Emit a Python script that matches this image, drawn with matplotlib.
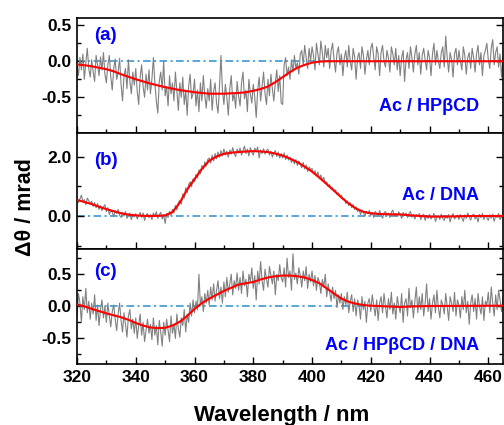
import numpy as np
import matplotlib
matplotlib.use("Agg")
import matplotlib.pyplot as plt
from matplotlib.ticker import MultipleLocator, FixedLocator, FormatStrFormatter

plt.rcParams['font.family'] = ['Liberation Sans', 'DejaVu Sans']
plt.rcParams['font.weight'] = 'bold'

# measured spectra, 0.5 nm step from 320 to 465 nm
wl_start, wl_step = 320.0, 0.5

cd_a = [
    -0.05, -0.20, 0.05, -0.12, 0.10, -0.25, -0.02, 0.18, -0.10, -0.22,
    0.02, -0.15, -0.28, 0.08, -0.05, -0.20, 0.06, -0.12, 0.12, -0.18,
    -0.30, -0.05, 0.08, -0.22, -0.40, -0.10, 0.03, -0.25, -0.15, 0.04,
    -0.32, -0.55, -0.20, -0.10, -0.38, 0.02, -0.28, -0.45, -0.15, -0.33,
    -0.10, -0.42, -0.60, -0.22, -0.05, -0.35, -0.50, -0.18, -0.40, -0.12,
    -0.45, -0.25, 0.05, -0.30, -0.55, -0.72, -0.28, -0.15, -0.40, 0.00,
    -0.48, -0.35, -0.62, -0.20, -0.45, -0.30, -0.55, -0.15, -0.42, -0.68,
    -0.30, -0.50, -0.22, -0.60, -0.40, -0.75, -0.35, -0.18, -0.52, -0.45,
    -0.25, -0.62, -0.40, -0.70, -0.30, -0.55, -0.20, -0.48, -0.65, -0.38,
    -0.55, -0.25, -0.68, -0.42, -0.30, -0.58, -0.72, -0.35, 0.08, -0.40,
    -0.60, -0.32, -0.50, -0.75, -0.38, -0.20, -0.55, -0.45, -0.65, -0.28,
    -0.48, -0.62, -0.30, -0.15, -0.52, -0.40, -0.70, -0.25, -0.45, -0.58,
    -0.32, -0.50, -0.78, -0.40, -0.22, -0.55, -0.35, -0.15, -0.45, -0.60,
    -0.25, -0.48, -0.18, -0.38, -0.55, -0.30, -0.12, -0.42, -0.20, -0.58,
    -0.60, -0.05, 0.05, -0.20, -0.08, -0.25, 0.02, -0.15, 0.08, -0.10,
    -0.02, -0.18, 0.10, 0.15, -0.05, 0.22, 0.05, -0.10, 0.18, 0.00,
    0.20, 0.08, -0.12, 0.25, 0.10, -0.05, 0.28, 0.12, -0.08, 0.22,
    0.05, 0.18, -0.10, 0.15, 0.25, 0.02, -0.15, 0.12, 0.20, -0.05,
    0.10, -0.20, 0.05, 0.15, -0.08, 0.22, 0.00, -0.12, 0.18, 0.06,
    -0.25, 0.05, 0.12, -0.10, 0.20, 0.08, -0.18, 0.02, 0.15, -0.05,
    0.18, 0.25, 0.05, -0.12, 0.20, 0.10, -0.20, 0.12, 0.22, 0.00,
    -0.08, 0.15, 0.05, -0.15, 0.20, 0.10, -0.05, 0.18, -0.12, 0.08,
    -0.20, 0.05, 0.15, -0.28, 0.02, 0.12, -0.10, 0.20, 0.05, -0.15,
    0.10, 0.22, -0.05, 0.12, -0.18, 0.08, 0.18, 0.02, -0.12, 0.15,
    0.05, -0.20, 0.10, 0.25, -0.05, 0.15, 0.00, -0.10, 0.12, 0.20,
    -0.08, 0.35, 0.05, -0.15, 0.12, 0.02, -0.22, 0.10, 0.18, -0.05,
    0.15, 0.00, -0.12, 0.20, 0.08, -0.18, 0.05, 0.12, -0.10, 0.18,
    0.05, -0.15, 0.10, 0.22, -0.05, 0.12, -0.20, 0.08, 0.15, 0.25,
    0.02, -0.10, 0.18, 0.30, -0.05, 0.12, 0.20, -0.08, 0.10, -0.22,
    0.05,
]

cd_b = [
    0.62, 0.45, 0.58, 0.70, 0.48, 0.55, 0.38, 0.60, 0.52, 0.40,
    0.50, 0.32, 0.45, 0.28, 0.42, 0.22, 0.35, 0.18, 0.30, 0.38,
    0.15, 0.28, 0.05, 0.20, 0.12, -0.02, 0.18, 0.08, 0.22, 0.02,
    -0.05, 0.12, 0.00, 0.15, -0.08, 0.05, 0.10, -0.12, 0.06, -0.03,
    0.08, -0.10, 0.02, 0.12, -0.05, 0.10, -0.15, 0.03, 0.08, -0.06,
    0.05, -0.12, 0.10, -0.02, 0.14, -0.08, 0.04, 0.12, -0.10, 0.02,
    -0.25, 0.08, -0.05, 0.15, 0.02, 0.22, 0.10, 0.35, 0.20, 0.45,
    0.52, 0.40, 0.75, 0.60, 0.95, 0.78, 1.05, 1.15, 0.98, 1.25,
    1.15, 1.40, 1.28, 1.55, 1.42, 1.70, 1.58, 1.82, 1.68, 1.90,
    1.95, 1.78, 2.05, 1.85, 2.10, 1.92, 2.15, 1.98, 2.20, 2.02,
    2.25, 2.05, 2.18, 1.98, 2.22, 2.08, 2.30, 2.10, 2.00, 2.25,
    2.12, 2.28, 2.05, 2.20, 2.35, 2.10, 2.25, 2.02, 2.30, 2.15,
    2.05, 2.28, 2.18, 2.32, 1.95, 2.22, 2.10, 2.26, 2.08, 2.20,
    2.25, 2.05, 2.18, 1.98, 2.12, 2.20, 2.00, 2.15, 1.95, 2.10,
    1.95, 2.12, 1.90, 2.05, 1.88, 1.98, 1.80, 1.92, 1.75, 1.90,
    1.70, 1.85, 1.75, 1.62, 1.80, 1.58, 1.72, 1.50, 1.65, 1.55,
    1.60, 1.42, 1.52, 1.35, 1.48, 1.25, 1.38, 1.20, 1.30, 1.10,
    1.15, 0.98, 1.05, 0.90, 0.95, 0.82, 0.88, 0.72, 0.78, 0.65,
    0.70, 0.55, 0.58, 0.42, 0.50, 0.35, 0.45, 0.28, 0.38, 0.22,
    0.30, 0.15, 0.22, 0.05, 0.18, 0.12, 0.00, 0.15, 0.08, 0.18,
    0.02, 0.12, -0.05, 0.15, 0.08, 0.00, 0.18, 0.05, -0.08, 0.10,
    0.15, 0.02, 0.10, -0.05, 0.12, 0.20, 0.00, 0.08, -0.02, 0.14,
    0.06, -0.08, 0.12, 0.02, 0.10, -0.05, 0.08, 0.15, -0.04, 0.05,
    -0.10, 0.05, -0.02, 0.08, -0.12, 0.00, 0.06, -0.15, 0.02, -0.08,
    0.05, -0.10, -0.03, 0.08, -0.18, -0.05, 0.02, -0.12, 0.06, -0.08,
    -0.15, 0.02, -0.08, 0.05, -0.20, -0.02, 0.08, -0.10, -0.04, 0.03,
    -0.12, 0.05, -0.06, -0.18, 0.04, -0.08, 0.10, -0.02, -0.14, 0.02,
    0.06, -0.10, 0.00, -0.20, 0.05, -0.06, 0.08, -0.12, 0.02, -0.05,
    -0.15, 0.04, -0.08, 0.06, -0.18, 0.00, -0.05, 0.08, -0.12, -0.02,
    0.03,
]

cd_c = [
    -0.15, 0.20, 0.05, -0.25, 0.15, -0.05, 0.28, -0.10, 0.08, -0.20,
    0.05, -0.12, 0.18, -0.22, 0.02, -0.30, -0.05, 0.10, -0.18, 0.00,
    -0.25, 0.05, -0.15, -0.32, -0.08, 0.02, -0.20, -0.38, -0.12, 0.05,
    -0.22, -0.40, -0.10, -0.28, -0.48, -0.15, -0.05, -0.35, -0.20, -0.42,
    -0.18, -0.50, -0.30, -0.12, -0.45, -0.25, -0.55, -0.38, -0.20, -0.42,
    -0.28, -0.52, -0.18, -0.45, -0.30, -0.60, -0.22, -0.40, -0.62, -0.25,
    -0.45, -0.20, -0.38, -0.55, -0.15, -0.42, -0.28, -0.50, -0.12, -0.35,
    -0.48, -0.18, -0.30, -0.05, -0.40, -0.12, -0.25, 0.05, -0.15, 0.10,
    -0.10, 0.08, -0.05, 0.50, 0.02, 0.15, -0.08, 0.20, 0.05, 0.25,
    0.02, 0.30, 0.10, 0.35, 0.08, 0.25, 0.40, 0.12, 0.30, 0.05,
    0.38, 0.15, 0.45, 0.22, 0.35, 0.50, 0.18, 0.40, 0.28, 0.52,
    0.25, 0.45, 0.20, 0.55, 0.32, 0.42, 0.15, 0.50, 0.38, 0.60,
    0.28, 0.48, 0.10, 0.55, 0.35, 0.70, 0.40, 0.25, 0.58, 0.42,
    0.30, 0.62, 0.48, 0.35, 0.55, 0.18, 0.50, 0.40, 0.65, 0.45,
    0.38, 0.60, 0.30, 0.75, 0.45, 0.55, 0.25, 0.82, 0.42, 0.52,
    0.35, 0.60, 0.48, 0.30, 0.55, 0.40, 0.62, 0.28, 0.50, 0.38,
    0.55, 0.32, 0.48, 0.25, 0.45, 0.38, 0.20, 0.42, 0.30, 0.50,
    0.15, 0.35, 0.22, 0.08, 0.30, 0.12, 0.25, -0.02, 0.18, 0.05,
    0.20, -0.05, 0.15, 0.02, 0.22, -0.10, 0.08, 0.18, -0.08, 0.12,
    -0.15, 0.10, 0.02, -0.20, 0.15, -0.05, 0.08, -0.25, 0.05, 0.12,
    -0.08, 0.18, 0.02, -0.15, 0.10, -0.22, 0.05, 0.15, -0.10, 0.20,
    0.00, -0.18, 0.12, -0.05, 0.22, -0.12, 0.05, -0.20, 0.15, 0.02,
    -0.10, 0.20, -0.25, 0.05, 0.12, -0.15, 0.28, -0.02, 0.10, -0.18,
    0.08, 0.30, -0.10, 0.15, -0.05, 0.20, -0.15, 0.05, 0.35, -0.08,
    0.12, -0.20, 0.05, 0.18, -0.10, 0.25, -0.02, -0.18, 0.10, 0.02,
    -0.12, 0.20, 0.00, -0.22, 0.15, 0.05, -0.08, 0.22, -0.15, 0.10,
    0.02, -0.18, 0.15, -0.05, 0.25, -0.10, 0.08, -0.28, 0.05, 0.18,
    -0.08, 0.12, -0.20, 0.20, 0.00, -0.12, 0.15, -0.22, 0.08, 0.02,
    0.22, -0.10, 0.30, 0.05, -0.15, 0.18, -0.05, 0.25, 0.10, -0.08,
    0.12,
]

# fitted curves (red)
fit_x_a = [320, 322.5, 325, 327.5, 330, 332.5, 335, 337.5, 340, 342.5, 345, 347.5,
           350, 352.5, 355, 357.5, 360, 362.5, 365, 367.5, 370, 372.5, 375, 377.5,
           380, 382.5, 385, 387.5, 390, 392.5, 395, 397.5, 400, 402.5, 405, 410, 465]
fit_y_a = [-0.045, -0.055, -0.07, -0.09, -0.11, -0.14, -0.18, -0.215, -0.25, -0.28, -0.31, -0.335,
           -0.36, -0.38, -0.40, -0.415, -0.43, -0.44, -0.45, -0.45, -0.45, -0.445, -0.44, -0.43,
           -0.41, -0.385, -0.35, -0.29, -0.22, -0.15, -0.09, -0.05, -0.02, -0.005, 0.0, 0.0, 0.0]

fit_x_b = [320, 322.5, 325, 327.5, 330, 332.5, 335, 337.5, 340, 342.5, 345, 347.5,
           350, 352.5, 355, 357.5, 360, 362.5, 365, 367.5, 370, 372.5, 375, 377.5,
           380, 382.5, 385, 387.5, 390, 392.5, 395, 397.5, 400, 402.5, 405, 407.5,
           410, 412.5, 415, 417.5, 420, 422.5, 425, 430, 435, 440, 445, 450, 455, 465]
fit_y_b = [0.54, 0.47, 0.40, 0.31, 0.23, 0.16, 0.09, 0.045, 0.02, 0.005, 0.0, 0.005,
           0.02, 0.13, 0.45, 0.89, 1.24, 1.58, 1.86, 2.00, 2.09, 2.13, 2.15, 2.17,
           2.18, 2.17, 2.15, 2.10, 2.03, 1.93, 1.81, 1.66, 1.49, 1.29, 1.07, 0.85,
           0.62, 0.42, 0.25, 0.14, 0.09, 0.07, 0.06, 0.05, 0.01, -0.02, -0.02, -0.01, 0.0, 0.0]

fit_x_c = [320, 322.5, 325, 327.5, 330, 332.5, 335, 337.5, 340, 342.5, 345, 347.5,
           350, 352.5, 355, 357.5, 360, 362.5, 365, 367.5, 370, 372.5, 375, 377.5,
           380, 382.5, 385, 387.5, 390, 392.5, 395, 397.5, 400, 402.5, 405, 407.5,
           410, 412.5, 415, 417.5, 420, 425, 430, 435, 440, 465]
fit_y_c = [0.03, 0.0, -0.04, -0.075, -0.11, -0.14, -0.17, -0.21, -0.26, -0.30, -0.33, -0.34,
           -0.335, -0.30, -0.24, -0.15, -0.04, 0.05, 0.12, 0.18, 0.24, 0.29, 0.34, 0.36,
           0.38, 0.42, 0.45, 0.47, 0.48, 0.48, 0.47, 0.45, 0.41, 0.36, 0.28, 0.20,
           0.12, 0.07, 0.04, 0.02, 0.01, 0.0, -0.01, 0.0, 0.005, 0.01]

panel_tags = ['(a)', '(b)', '(c)']
sample_names = ['Ac / HPβCD', 'Ac / DNA', 'Ac / HPβCD / DNA']
y_limits = [(-1.0, 0.6), (-1.1, 2.78), (-0.9, 0.9)]
y_major = [[-0.5, 0.0, 0.5], [0.0, 2.0], [-0.5, 0.0, 0.5]]
y_minor = [0.25, 1.0, 0.25]

W, H = 504, 425
fig, axes = plt.subplots(3, 1, sharex=True, figsize=(W / 100, H / 100), dpi=100)
fig.subplots_adjust(left=77 / W, right=503 / W, top=1 - 18 / H, bottom=1 - 364 / H, hspace=0)

wl = wl_start + wl_step * np.arange(len(cd_a))
spectra = [cd_a, cd_b, cd_c]
fits = [(fit_x_a, fit_y_a), (fit_x_b, fit_y_b), (fit_x_c, fit_y_c)]

for i, ax in enumerate(axes):
    ax.axhline(0, color='#2b90cc', lw=1.1, dashes=[5, 2.2, 1.4, 2.2], zorder=1)
    ax.plot(wl, spectra[i], color='#808080', lw=0.8, zorder=2)
    ax.plot(fits[i][0], fits[i][1], color='#ff0000', lw=1.5, zorder=3)
    ax.set_ylim(*y_limits[i])
    ax.yaxis.set_major_locator(FixedLocator(y_major[i]))
    ax.yaxis.set_minor_locator(MultipleLocator(y_minor[i]))
    ax.yaxis.set_major_formatter(FormatStrFormatter('%.1f'))
    ax.tick_params(which='both', direction='in', left=True, right=True, top=False,
                   bottom=True, width=1.0, labelsize=12.5)
    ax.tick_params(which='major', length=5, pad=4)
    ax.tick_params(which='minor', length=3)
    for sp in ax.spines.values():
        sp.set_linewidth(1.2)

axes[-1].set_xlim(320, 465)
axes[-1].xaxis.set_major_locator(MultipleLocator(20))
axes[-1].xaxis.set_minor_locator(MultipleLocator(10))

# panel tags and sample names (baseline positions in pixels)
tag_base = [39.5, 165, 275.7]
name_base = [111, 200, 350]
for i in range(3):
    fig.text(94 / W, 1 - tag_base[i] / H, panel_tags[i], color='#0000ff',
             fontsize=13.5, fontweight='bold', ha='left', va='baseline')
    fig.text(479 / W, 1 - name_base[i] / H, sample_names[i], color='#0000ff',
             fontsize=13, fontweight='bold', ha='right', va='baseline')

fig.text(26 / W, 1 - 207 / H, 'Δθ / mrad', rotation=90, fontsize=15.5,
         fontweight='bold', ha='center', va='center')
fig.text(282 / W, 1 - 421.5 / H, 'Wavelength / nm', fontsize=16,
         fontweight='bold', ha='center', va='baseline')

fig.savefig('out.png', dpi=100)
